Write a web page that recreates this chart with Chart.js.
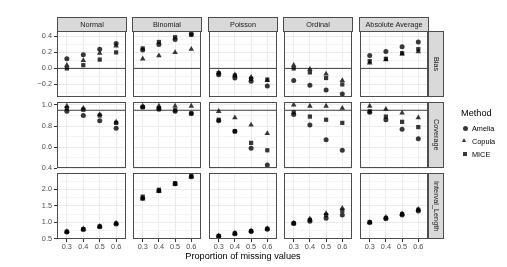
<!DOCTYPE html>
<html>
<head>
<meta charset="utf-8">
<script src="https://cdn.jsdelivr.net/npm/chart.js@4.4.1/dist/chart.umd.min.js"></script>
<style>
  body { margin: 0; background: #fff; font-family: "Liberation Sans", Arial, sans-serif; }
  #wrap { position: relative; width: 507px; height: 267px; overflow: hidden; will-change: transform; }
  canvas { position: absolute; z-index: 0; }
  .strip { position: absolute; z-index: 2; box-sizing: border-box; background: #d9d9d9; border: 1px solid #4d4d4d;
           color: #1a1a1a; font-size: 7.3px; display: flex; align-items: center; justify-content: center; }
  .vstrip { writing-mode: vertical-rl; }
  .lbl { position: absolute; color: #000; white-space: nowrap; }
  .key { position: absolute; }
</style>
</head>
<body>
<div id="wrap"></div>
<script>
// facets and categories
var xLabels = ['0.3', '0.4', '0.5', '0.6'];
var distributions = ['Normal', 'Binomial', 'Poisson', 'Ordinal', 'Absolute Average'];
var measures = ['Bias', 'Coverage', 'Interval_Length'];
var methods = ['Amelia', 'Copula', 'MICE'];

// one row per distribution, values for 0.3 .. 0.6
var biasAmelia  = [[0.12, 0.17, 0.24, 0.31], [0.23, 0.30, 0.36, 0.43], [-0.08, -0.12, -0.16, -0.22], [-0.15, -0.21, -0.27, -0.32], [0.16, 0.21, 0.27, 0.33]];
var biasCopula  = [[0.04, 0.10, 0.19, 0.28], [0.12, 0.16, 0.20, 0.24], [-0.05, -0.08, -0.11, -0.15], [0.04, -0.01, -0.07, -0.15], [0.07, 0.11, 0.18, 0.21]];
var biasMice    = [[0.00, 0.04, 0.11, 0.20], [0.25, 0.33, 0.39, 0.42], [-0.06, -0.09, -0.13, -0.14], [0.00, -0.05, -0.12, -0.20], [0.09, 0.12, 0.19, 0.24]];

var covAmelia   = [[0.94, 0.90, 0.85, 0.78], [0.98, 0.96, 0.94, 0.92], [0.85, 0.75, 0.59, 0.43], [0.91, 0.81, 0.67, 0.57], [0.93, 0.86, 0.77, 0.68]];
var covCopula   = [[0.99, 0.97, 0.91, 0.84], [0.99, 0.99, 0.99, 0.99], [0.94, 0.88, 0.81, 0.73], [1.00, 0.99, 0.99, 0.97], [0.99, 0.96, 0.925, 0.88]];
var covMice     = [[0.97, 0.955, 0.90, 0.83], [0.98, 0.97, 0.95, 0.92], [0.86, 0.75, 0.64, 0.57], [0.93, 0.89, 0.86, 0.83], [0.94, 0.89, 0.84, 0.79]];

var lenAmelia   = [[0.70, 0.78, 0.86, 0.95], [1.73, 1.96, 2.17, 2.39], [0.57, 0.65, 0.72, 0.79], [0.96, 1.03, 1.12, 1.22], [0.99, 1.11, 1.22, 1.34]];
var lenCopula   = [[0.72, 0.80, 0.88, 0.97], [1.71, 1.94, 2.16, 2.38], [0.59, 0.67, 0.74, 0.81], [0.98, 1.10, 1.27, 1.43], [1.00, 1.15, 1.26, 1.40]];
var lenMice     = [[0.71, 0.79, 0.87, 0.96], [1.78, 1.99, 2.19, 2.41], [0.58, 0.66, 0.73, 0.80], [0.97, 1.07, 1.22, 1.35], [1.00, 1.13, 1.25, 1.38]];

// y axis ticks per row
var biasTicks = [-0.2, 0, 0.2, 0.4];
var biasTickLabels = ['\u22120.2', '0.0', '0.2', '0.4'];
var biasMinor = [-0.3, -0.1, 0.1, 0.3];
var covTicks = [0.4, 0.6, 0.8, 1.0];
var covTickLabels = ['0.4', '0.6', '0.8', '1.0'];
var covMinor = [0.5, 0.7, 0.9];
var lenTicks = [0.5, 1.0, 1.5, 2.0];
var lenTickLabels = ['0.5', '1.0', '1.5', '2.0'];
var lenMinor = [0.75, 1.25, 1.75, 2.25];

// reference lines
var biasRef = 0;
var covRef = 0.95;

var rows = [
  { data: [biasAmelia, biasCopula, biasMice], ticks: biasTicks, labels: biasTickLabels, minor: biasMinor, min: -0.3575, max: 0.4675, ref: biasRef },
  { data: [covAmelia, covCopula, covMice], ticks: covTicks, labels: covTickLabels, minor: covMinor, min: 0.4015, max: 1.0285, ref: covRef },
  { data: [lenAmelia, lenCopula, lenMice], ticks: lenTicks, labels: lenTickLabels, minor: lenMinor, min: 0.489, max: 2.501, ref: null }
];

var colLeft = [57, 132, 208, 283, 359];
var rowTop = [31, 102, 173];
var panelW = 70, panelH = 66;
var padV = 5, padH = 3;
var shapes = ['circle', 'triangle', 'rect'];
var radius = [2.5, 3.2, 3.0];
var pointColor = 'rgba(0,0,0,0.78)';

Chart.defaults.font.family = '"Liberation Sans", Arial, sans-serif';
Chart.defaults.font.size = 7.3;
Chart.defaults.color = '#4d4d4d';

var wrap = document.getElementById('wrap');

var framePlugin = {
  id: 'frame',
  afterDraw: function (chart) {
    var a = chart.chartArea, ctx = chart.ctx;
    ctx.save();
    ctx.strokeStyle = '#4d4d4d';
    ctx.lineWidth = 1;
    ctx.strokeRect(a.left + 0.5, a.top + 0.5, a.right - a.left - 1, a.bottom - a.top - 1);
    ctx.restore();
  }
};

function near(list, v) {
  for (var i = 0; i < list.length; i++) if (Math.abs(list[i] - v) < 1e-6) return i;
  return -1;
}

function makePanel(r, c) {
  var row = rows[r];
  var yW = c === 0 ? 40 : 0;
  var xH = r === 2 ? 16 : 0;
  var cv = document.createElement('canvas');
  var w = panelW + 2 * padH + yW, h = panelH + 2 * padV + xH;
  cv.width = w; cv.height = h;
  cv.style.left = (colLeft[c] - padH - yW) + 'px';
  cv.style.top = (rowTop[r] - padV) + 'px';
  cv.style.width = w + 'px'; cv.style.height = h + 'px';
  wrap.appendChild(cv);

  var datasets = [];
  if (row.ref !== null) {
    datasets.push({
      type: 'line', data: [{ x: -0.6, y: row.ref }, { x: 3.6, y: row.ref }],
      borderColor: '#3d3d3d', borderWidth: 1, pointRadius: 0, order: 2
    });
  }
  for (var m = 0; m < methods.length; m++) {
    var vals = row.data[m][c];
    datasets.push({
      label: methods[m],
      data: vals.map(function (v, i) { return { x: i, y: v }; }),
      pointStyle: shapes[m], pointRadius: radius[m],
      backgroundColor: pointColor, borderColor: pointColor, borderWidth: 0,
      order: 1, clip: false
    });
  }

  var allY = row.ticks.concat(row.minor).sort(function (a, b) { return a - b; });

  new Chart(cv, {
    type: 'scatter',
    data: { datasets: datasets },
    options: {
      responsive: false, animation: false, events: [],
      layout: { padding: { top: padV, bottom: padV, left: padH, right: padH } },
      plugins: { legend: { display: false }, tooltip: { enabled: false } },
      scales: {
        x: {
          type: 'linear', min: -0.6, max: 3.6,
          afterBuildTicks: function (s) { s.ticks = xLabels.map(function (l, i) { return { value: i }; }); },
          afterFit: function (s) { s.height = xH; s.paddingLeft = 0; s.paddingRight = 0; },
          ticks: {
            display: r === 2, padding: 1, maxRotation: 0, autoSkip: false,
            callback: function (v) { return xLabels[Math.round(v)]; }
          },
          grid: { color: '#ebebeb', lineWidth: 1, drawTicks: r === 2, tickLength: 3, tickColor: '#333' },
          border: { display: false }
        },
        y: {
          type: 'linear', min: row.min, max: row.max,
          afterBuildTicks: function (s) { s.ticks = allY.map(function (v) { return { value: v }; }); },
          afterFit: function (s) { s.width = yW; s.paddingTop = 0; s.paddingBottom = 0; },
          ticks: {
            display: c === 0, padding: 2, autoSkip: false,
            callback: function (v) { var k = near(row.ticks, v); return k < 0 ? '' : row.labels[k]; }
          },
          grid: {
            drawTicks: c === 0, tickLength: 3,
            color: function (ctx) { return near(row.ticks, ctx.tick.value) < 0 ? '#f4f4f4' : '#ebebeb'; },
            tickColor: function (ctx) { return near(row.ticks, ctx.tick.value) < 0 ? 'rgba(0,0,0,0)' : '#333'; },
            lineWidth: 1
          },
          border: { display: false }
        }
      }
    },
    plugins: [framePlugin]
  });
}

for (var r = 0; r < 3; r++) for (var c = 0; c < 5; c++) makePanel(r, c);

// strips
for (var c = 0; c < distributions.length; c++) {
  var s = document.createElement('div');
  s.className = 'strip';
  s.style.left = colLeft[c] + 'px'; s.style.top = '17px';
  s.style.width = panelW + 'px'; s.style.height = '15px';
  s.textContent = distributions[c];
  wrap.appendChild(s);
}
for (var r = 0; r < measures.length; r++) {
  var s = document.createElement('div');
  s.className = 'strip vstrip';
  s.style.left = (colLeft[4] + panelW - 1) + 'px'; s.style.top = rowTop[r] + 'px';
  s.style.width = '16px'; s.style.height = panelH + 'px';
  s.textContent = measures[r];
  wrap.appendChild(s);
}

// axis title
var t = document.createElement('div');
t.className = 'lbl';
t.style.fontSize = '9.2px';
t.textContent = 'Proportion of missing values';
t.style.left = '243px'; t.style.top = '251px'; t.style.transform = 'translateX(-50%)';
wrap.appendChild(t);

// legend
var lt = document.createElement('div');
lt.className = 'lbl';
lt.style.fontSize = '9.2px';
lt.style.left = '461px'; lt.style.top = '108px';
lt.textContent = 'Method';
wrap.appendChild(lt);

var keyY = [128, 141, 154];
for (var m = 0; m < methods.length; m++) {
  var k = document.createElement('div');
  k.className = 'key';
  if (m === 0) {
    k.style.cssText = 'left:462.7px;top:' + (keyY[m] - 2.5) + 'px;width:5px;height:5px;border-radius:50%;background:' + pointColor;
  } else if (m === 1) {
    k.style.cssText = 'left:462.2px;top:' + (keyY[m] - 3) + 'px;width:0;height:0;border-left:2.8px solid transparent;border-right:2.8px solid transparent;border-bottom:4.8px solid ' + pointColor;
  } else {
    k.style.cssText = 'left:463px;top:' + (keyY[m] - 2.2) + 'px;width:4.4px;height:4.4px;background:' + pointColor;
  }
  wrap.appendChild(k);
  var l = document.createElement('div');
  l.className = 'lbl';
  l.style.fontSize = '7.3px';
  l.style.left = '472px'; l.style.top = (keyY[m] - 4.5) + 'px';
  l.textContent = methods[m];
  wrap.appendChild(l);
}
</script>
</body>
</html>
